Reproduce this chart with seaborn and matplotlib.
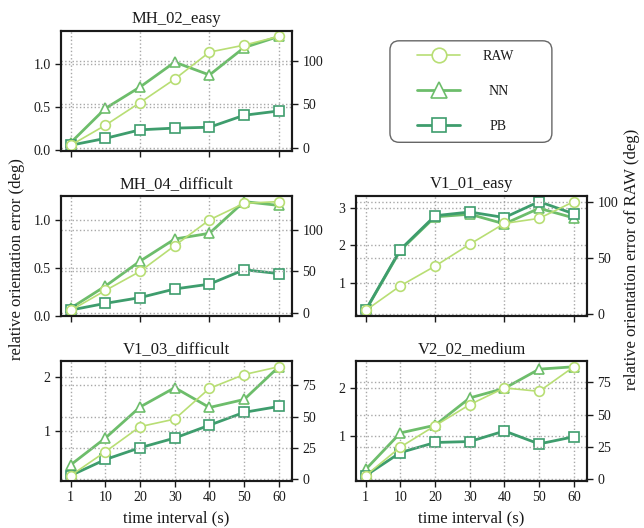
import matplotlib
matplotlib.use("Agg")
import matplotlib.pyplot as plt
import seaborn as sns
from matplotlib.patches import FancyBboxPatch

# x categories (time interval in seconds), drawn at evenly spaced positions
intervals = ["1", "10", "20", "30", "40", "50", "60"]
xpos = list(range(len(intervals)))

# relative orientation error per sequence: NN / PB on the left axis (deg),
# RAW on the right axis (deg)
raw_mh02 = [3, 26, 52, 79, 110, 118, 128]
nn_mh02 = [0.08, 0.48, 0.73, 1.02, 0.87, 1.19, 1.32]
pb_mh02 = [0.05, 0.13, 0.23, 0.25, 0.26, 0.40, 0.45]

raw_mh04 = [3, 27, 50, 81, 112, 132, 134]
nn_mh04 = [0.08, 0.31, 0.57, 0.80, 0.86, 1.19, 1.15]
pb_mh04 = [0.06, 0.13, 0.19, 0.28, 0.33, 0.48, 0.44]

raw_v101 = [3, 25, 42.6, 62.2, 80.8, 85.3, 100.3]
nn_v101 = [0.25, 1.87, 2.77, 2.84, 2.58, 3.00, 2.74]
pb_v101 = [0.26, 1.89, 2.80, 2.90, 2.75, 3.18, 2.85]

raw_v103 = [3, 22, 42, 48, 72.5, 83.5, 89.7]
nn_v103 = [0.36, 0.86, 1.44, 1.80, 1.43, 1.58, 2.19]
pb_v103 = [0.16, 0.46, 0.68, 0.86, 1.10, 1.34, 1.45]

raw_v202 = [3, 25, 41.5, 57.8, 70.7, 68, 87]
nn_v202 = [0.30, 1.06, 1.22, 1.79, 1.99, 2.39, 2.44]
pb_v202 = [0.17, 0.65, 0.86, 0.88, 1.10, 0.83, 0.98]

left_ticks_01 = [0.0, 0.5, 1.0]
left_ticks_123 = [1, 2, 3]
left_ticks_12 = [1, 2]
right_ticks_100 = [0, 50, 100]
right_ticks_75 = [0, 25, 50, 75]

panels = [
    ((0, 0), "MH_02_easy", raw_mh02, nn_mh02, pb_mh02, left_ticks_01, right_ticks_100, "{:.1f}"),
    ((1, 0), "MH_04_difficult", raw_mh04, nn_mh04, pb_mh04, left_ticks_01, right_ticks_100, "{:.1f}"),
    ((1, 1), "V1_01_easy", raw_v101, nn_v101, pb_v101, left_ticks_123, right_ticks_100, "{:d}"),
    ((2, 0), "V1_03_difficult", raw_v103, nn_v103, pb_v103, left_ticks_12, right_ticks_75, "{:d}"),
    ((2, 1), "V2_02_medium", raw_v202, nn_v202, pb_v202, left_ticks_12, right_ticks_75, "{:d}"),
]

c_raw = "#b8de74"
c_nn = "#6dbd6b"
c_pb = "#3e9d6d"

sns.set_style("ticks")
plt.rcParams["font.family"] = ["Liberation Serif", "DejaVu Serif"]
plt.rcParams["axes.edgecolor"] = "#1a1a1a"
plt.rcParams["xtick.color"] = "#1a1a1a"
plt.rcParams["ytick.color"] = "#1a1a1a"
plt.rcParams["text.color"] = "#1a1a1a"
plt.rcParams["axes.labelcolor"] = "#1a1a1a"

fig, axes = plt.subplots(3, 2, figsize=(6.44, 5.28), dpi=100)
fig.subplots_adjust(left=0.0947, right=0.9115, bottom=0.089, top=0.9413,
                    wspace=0.277, hspace=0.38)

grid_kw = dict(linestyle=":", color="#a8a8a8", linewidth=1.0)
legend_handles = None

for (r, c), title, raw, nn, pb, lticks, rticks, lfmt in panels:
    ax = axes[r, c]
    ax2 = ax.twinx()

    sns.lineplot(x=xpos, y=nn, ax=ax, color=c_nn, linewidth=2.0,
                 marker="^", markersize=7.5, markerfacecolor="white",
                 markeredgecolor=c_nn, markeredgewidth=1.2, legend=False)
    sns.lineplot(x=xpos, y=pb, ax=ax, color=c_pb, linewidth=2.0,
                 marker="s", markersize=6.5, markerfacecolor="white",
                 markeredgecolor=c_pb, markeredgewidth=1.2, legend=False)
    sns.lineplot(x=xpos, y=raw, ax=ax2, color=c_raw, linewidth=1.2,
                 marker="o", markersize=7, markerfacecolor="white",
                 markeredgecolor=c_raw, markeredgewidth=1.2, legend=False)

    if legend_handles is None:
        legend_handles = [ax2.lines[0], ax.lines[0], ax.lines[1]]

    ax.set_xlim(-0.28, 6.38)
    if r == 2:
        ax.set_xticks(xpos)
        ax.set_xticklabels(intervals)
        ax.set_xlabel("time interval (s)", fontsize=12)
    else:
        ax.set_xticks(xpos[::2])
        ax.set_xticklabels([])
        ax.set_xlabel("")

    ax.set_yticks(lticks)
    ax.set_yticklabels([lfmt.format(v) for v in lticks])
    ax2.set_yticks(rticks)
    ax.set_ylabel("")
    ax2.set_ylabel("")
    ax.set_title(title, fontsize=12)

    ax.grid(True, **grid_kw)
    ax2.grid(True, axis="y", **grid_kw)
    ax2.xaxis.grid(False)

    for a in (ax, ax2):
        for s in a.spines.values():
            s.set_visible(True)
            s.set_linewidth(1.5)
        a.tick_params(direction="out", length=4, width=1.0, labelsize=10)

# the empty cell holds the legend
lax = axes[0, 1]
lax.axis("off")
frame = FancyBboxPatch((0.147, 0.07), 0.701, 0.848,
                       boxstyle="round,pad=0,rounding_size=0.04",
                       transform=lax.transAxes, facecolor="white",
                       edgecolor="#666666", linewidth=1.0, clip_on=False,
                       mutation_aspect=231 / 119)
lax.add_patch(frame)
leg = lax.legend(legend_handles, ["RAW", "NN", "PB"], loc="center left",
                 bbox_to_anchor=(0.235, 0.494), frameon=False, fontsize=10,
                 handlelength=3.1, handletextpad=1.6, labelspacing=1.6,
                 borderpad=0, markerscale=1.5)

fig.text(0.026, 0.509, "relative orientation error (deg)", rotation=90,
         ha="center", va="center", fontsize=12)
fig.text(0.981, 0.509, "relative orientation error of RAW (deg)", rotation=90,
         ha="center", va="center", fontsize=12)

# centre the legend labels on each other
fig.canvas.draw()
renderer = fig.canvas.get_renderer()
texts = leg.get_texts()
widths = [t.get_window_extent(renderer).width for t in texts]
wmax = max(widths)
for t, w in zip(texts, widths):
    t.set_x((wmax - w) / 2)

fig.savefig("out.png", dpi=100)
